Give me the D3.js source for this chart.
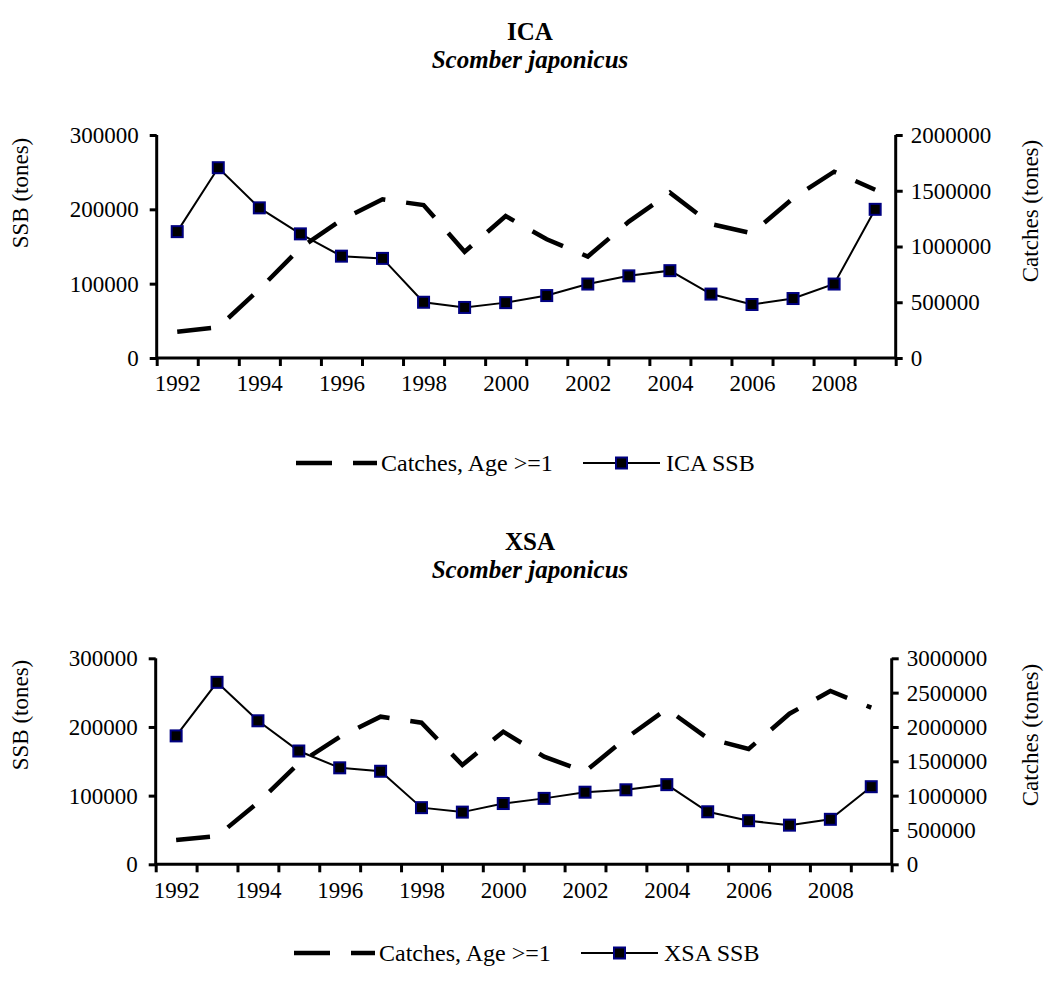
<!DOCTYPE html>
<html>
<head>
<meta charset="utf-8">
<script src="https://cdn.jsdelivr.net/npm/d3@7"></script>
<style>
  html, body { margin: 0; padding: 0; background: #fff; }
  svg text { font-family: "Liberation Serif", "Times New Roman", serif; fill: #000; }
</style>
</head>
<body>
<svg id="chart" width="1050" height="985"></svg>
<script>
// ---- data ----
const years = [1992,1993,1994,1995,1996,1997,1998,1999,2000,2001,2002,2003,2004,2005,2006,2007,2008,2009];
const yearLabels = [1992,1994,1996,1998,2000,2002,2004,2006,2008];

const icaSSB = [170000,256000,202000,167000,137000,134000,75000,68000,74500,84000,99500,110500,117500,86000,72000,80000,99500,200000];
const icaCatches = [236000,275000,616000,988000,1238000,1423000,1372000,953000,1273000,1065000,910000,1223000,1483000,1202000,1118000,1432000,1671000,1509000];

const xsaSSB = [187000,265000,209000,165000,140500,135500,82500,76000,88500,96000,105000,108500,116000,76500,63500,57000,65500,113000];
const xsaCatches = [354000,409000,897000,1471000,1854000,2150000,2062000,1446000,1931000,1567000,1349000,1835000,2262000,1835000,1679000,2193000,2524000,2281000];

const ssbTicks = [0,100000,200000,300000];
const icaCatchTicks = [0,500000,1000000,1500000,2000000];
const xsaCatchTicks = [0,500000,1000000,1500000,2000000,2500000,3000000];

const svg = d3.select("#chart");
const FONT = "'Liberation Serif', 'Times New Roman', serif";

function drawPanel(p) {
  const g = svg.append("g");
  const n = p.years.length;
  const xi = d3.scaleLinear().domain([0, n]).range([p.left, p.right]);
  const yL = d3.scaleLinear().domain([0, d3.max(p.ssbTicks)]).range([p.bottom, p.top]);
  const yR = d3.scaleLinear().domain([0, d3.max(p.catchTicks)]).range([p.bottom, p.top]);
  const cx = (d, i) => xi(i + 0.5);

  // titles
  g.append("text").attr("x", p.titleX).attr("y", p.titleY)
    .attr("text-anchor", "middle").attr("font-size", 25).attr("font-weight", "bold").text(p.title);
  g.append("text").attr("x", p.titleX).attr("y", p.titleY + 28)
    .attr("text-anchor", "middle").attr("font-size", 25).attr("font-weight", "bold")
    .attr("font-style", "italic").text(p.subtitle);

  // left axis
  const axL = g.append("g").attr("transform", `translate(${p.left},0)`)
    .call(d3.axisLeft(yL).tickValues(p.ssbTicks).tickSize(7).tickPadding(11).tickFormat(d3.format("d")));
  // right axis
  const axR = g.append("g").attr("transform", `translate(${p.right},0)`)
    .call(d3.axisRight(yR).tickValues(p.catchTicks).tickSize(7).tickPadding(8).tickFormat(d3.format("d")));
  // bottom axis ticks at category boundaries
  const axB = g.append("g").attr("transform", `translate(0,${p.bottom})`)
    .call(d3.axisBottom(xi).tickValues(d3.range(0, n + 1)).tickSize(8).tickFormat(""));
  // year labels at band centres
  const labelIdx = p.yearLabels.map(y => p.years.indexOf(y) + 0.5);
  const axLab = g.append("g").attr("transform", `translate(0,${p.bottom})`)
    .call(d3.axisBottom(xi).tickValues(labelIdx).tickSize(0).tickPadding(17)
      .tickFormat(v => p.years[Math.round(v - 0.5)]));
  axLab.select(".domain").remove();

  [axL, axR, axB].forEach(a => {
    a.select(".domain").attr("stroke", "#000").attr("stroke-width", 3);
    a.selectAll(".tick line").attr("stroke", "#000").attr("stroke-width", 3);
  });
  [axL, axR, axLab].forEach(a => {
    a.attr("font-family", FONT);
    a.selectAll(".tick text").attr("font-size", 23).attr("fill", "#000");
  });
  axL.select(".domain").attr("d", `M0,${p.bottom}V${p.top}`);
  axR.select(".domain").attr("d", `M0,${p.bottom}V${p.top}`);
  axB.select(".domain").attr("d", `M${p.left},0H${p.right}`);

  // axis titles
  g.append("text").attr("transform", `translate(${p.yTitleLX},${p.yTitleLY}) rotate(-90)`)
    .attr("text-anchor", "middle").attr("font-size", 23).text("SSB (tones)");
  g.append("text").attr("transform", `translate(${p.yTitleRX},${p.yTitleRY}) rotate(-90)`)
    .attr("text-anchor", "middle").attr("font-size", 23).text("Catches (tones)");

  // catches dashed line
  const lineR = d3.line().x(cx).y(d => yR(d));
  g.append("path").datum(p.catches).attr("d", lineR)
    .attr("fill", "none").attr("stroke", "#000").attr("stroke-width", 4.5)
    .attr("stroke-dasharray", "34,21");

  // SSB line + markers
  const lineL = d3.line().x(cx).y(d => yL(d));
  g.append("path").datum(p.ssb).attr("d", lineL)
    .attr("fill", "none").attr("stroke", "#000").attr("stroke-width", 2);
  g.selectAll("rect.mk").data(p.ssb).enter().append("rect")
    .attr("x", (d, i) => cx(d, i) - 5.5).attr("y", d => yL(d) - 5.5)
    .attr("width", 11).attr("height", 11)
    .attr("fill", "#000").attr("stroke", "#000080").attr("stroke-width", 2);

  // legend
  const ly = p.legendY;
  g.append("line").attr("x1", p.legendX).attr("x2", p.legendX + 81).attr("y1", ly).attr("y2", ly)
    .attr("stroke", "#000").attr("stroke-width", 4.5).attr("stroke-dasharray", "36,21");
  g.append("text").attr("x", p.legendX + 85).attr("y", ly + 8).attr("font-size", 24).text("Catches, Age >=1");
  g.append("line").attr("x1", p.legendX + 287).attr("x2", p.legendX + 364).attr("y1", ly).attr("y2", ly)
    .attr("stroke", "#000").attr("stroke-width", 2);
  g.append("rect").attr("x", p.legendX + 325.5 - 5.5).attr("y", ly - 5.5).attr("width", 11).attr("height", 11)
    .attr("fill", "#000").attr("stroke", "#000080").attr("stroke-width", 2);
  g.append("text").attr("x", p.legendX + 370).attr("y", ly + 8).attr("font-size", 24).text(p.ssbName);
}

drawPanel({
  years, yearLabels, ssb: icaSSB, catches: icaCatches, ssbTicks, catchTicks: icaCatchTicks,
  left: 156.7, right: 895.7, top: 135, bottom: 358,
  title: "ICA", subtitle: "Scomber japonicus", titleX: 530, titleY: 40,
  yTitleLX: 28, yTitleLY: 193, yTitleRX: 1038, yTitleRY: 211,
  legendX: 296, legendY: 463, ssbName: "ICA SSB"
});
drawPanel({
  years, yearLabels, ssb: xsaSSB, catches: xsaCatches, ssbTicks, catchTicks: xsaCatchTicks,
  left: 155.7, right: 891.7, top: 658.3, bottom: 864.3,
  title: "XSA", subtitle: "Scomber japonicus", titleX: 530, titleY: 550,
  yTitleLX: 28, yTitleLY: 715, yTitleRX: 1038, yTitleRY: 735,
  legendX: 294, legendY: 953, ssbName: "XSA SSB"
});
</script>
</body>
</html>
